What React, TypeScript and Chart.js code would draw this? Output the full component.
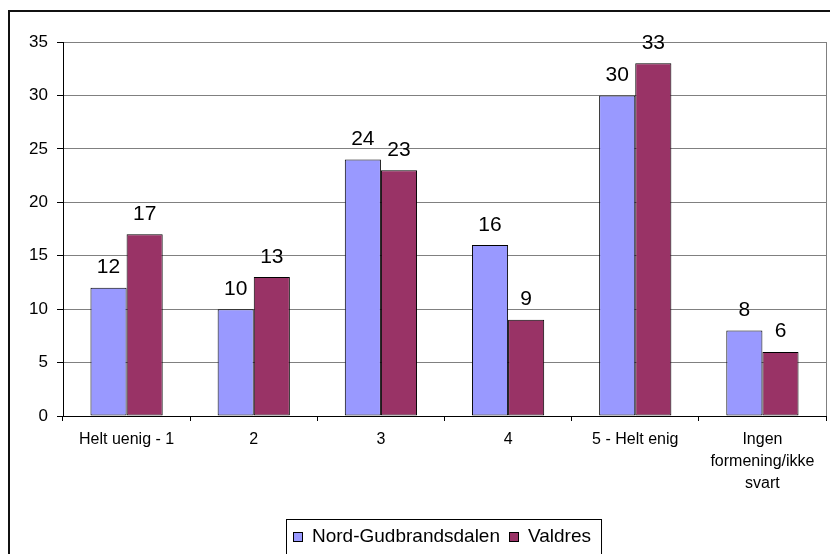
import React, { useEffect, useRef } from "react";
import { Chart, registerables } from "chart.js";

Chart.register(...registerables);

const categories: (string | string[])[] = [
  "Helt uenig - 1",
  "2",
  "3",
  "4",
  "5 - Helt enig",
  ["Ingen", "formening/ikke", "svart"],
];
const seriesNames = ["Nord-Gudbrandsdalen", "Valdres"];
const nordValues = [12, 10, 24, 16, 30, 8];
const valdresValues = [17, 13, 23, 9, 33, 6];
const seriesColors = ["#9999FF", "#993366"];
const yMin = 0;
const yMax = 35;
const yStep = 5;

const FONT = "'Liberation Sans', Arial, sans-serif";

const framePlugin = {
  id: "frame",
  beforeDraw(chart: any) {
    const ctx = chart.ctx;
    ctx.save();
    ctx.fillStyle = "#ffffff";
    ctx.fillRect(0, 0, chart.width, chart.height);
    ctx.restore();
  },
  afterDraw(chart: any) {
    const ctx = chart.ctx;
    ctx.save();
    ctx.fillStyle = "#111111";
    ctx.fillRect(8, 10, chart.width - 8, 2);
    ctx.fillRect(8, 10, 2, chart.height - 10);
    ctx.restore();
  },
};

const labelPlugin = {
  id: "valueLabels",
  afterDatasetsDraw(chart: any) {
    const ctx = chart.ctx;
    ctx.save();
    ctx.font = `21px ${FONT}`;
    ctx.fillStyle = "#000";
    ctx.textAlign = "center";
    ctx.textBaseline = "alphabetic";
    chart.data.datasets.forEach((ds: any, di: number) => {
      const meta = chart.getDatasetMeta(di);
      meta.data.forEach((el: any, i: number) => {
        ctx.fillText(String(ds.data[i]), el.x, el.y - 14.5);
      });
    });
    ctx.restore();
  },
};

const legendPlugin = {
  id: "boxLegend",
  afterDraw(chart: any) {
    const ctx = chart.ctx;
    ctx.save();
    ctx.font = `19px ${FONT}`;
    const names: string[] = chart.data.datasets.map((d: any) => d.label);
    const colors: string[] = chart.data.datasets.map((d: any) => d.backgroundColor);
    const widths = names.map((n) => ctx.measureText(n).width);
    const padL = 7, sq = 10, gap = 9, itemGap = 9, padR = 10;
    let total = padL + padR;
    widths.forEach((w, i) => {
      total += sq + gap + w + (i < widths.length - 1 ? itemGap : 0);
    });
    const cx = 444;
    const left = Math.round(cx - total / 2);
    const top = 519;
    ctx.strokeStyle = "#000";
    ctx.lineWidth = 1;
    ctx.strokeRect(left + 0.5, top + 0.5, total, 60);
    let x = left + padL;
    const midY = 537;
    ctx.textBaseline = "middle";
    ctx.textAlign = "left";
    names.forEach((n, i) => {
      ctx.fillStyle = colors[i];
      ctx.fillRect(x, midY - 5, sq, sq);
      ctx.strokeRect(x + 0.5, midY - 5 + 0.5, sq - 1, sq - 1);
      x += sq + gap;
      ctx.fillStyle = "#000";
      ctx.fillText(n, x, midY);
      x += widths[i] + itemGap;
    });
    ctx.restore();
  },
};

export default function App() {
  const ref = useRef<HTMLCanvasElement | null>(null);
  useEffect(() => {
    if (!ref.current) return;
    const chart = new Chart(ref.current, {
      type: "bar",
      data: {
        labels: categories as any,
        datasets: [
          {
            label: seriesNames[0],
            data: nordValues,
            backgroundColor: seriesColors[0],
            borderColor: "#000",
            borderWidth: 1,
            borderSkipped: false,
            categoryPercentage: 0.568,
            barPercentage: 1,
          },
          {
            label: seriesNames[1],
            data: valdresValues,
            backgroundColor: seriesColors[1],
            borderColor: "#000",
            borderWidth: 1,
            borderSkipped: false,
            categoryPercentage: 0.568,
            barPercentage: 1,
          },
        ],
      },
      options: {
        animation: false,
        responsive: false,
        maintainAspectRatio: false,
        devicePixelRatio: 1,
        layout: { padding: { left: 0, top: 42, right: 4, bottom: 0 } },
        plugins: {
          legend: { display: false },
          tooltip: { enabled: false },
          title: { display: false },
        },
        scales: {
          x: {
            grid: {
              offset: true,
              drawOnChartArea: true,
              color: (c: any) => (c.type === "tick" ? "rgba(0,0,0,0)" : "#808080"),
              tickColor: "#000",
              tickLength: 5,
            },
            border: { display: true, color: "#000", width: 1 },
            ticks: {
              color: "#000",
              font: { family: FONT, size: 16, lineHeight: 1.4 },
              padding: 7,
              maxRotation: 0,
              autoSkip: false,
            },
            afterFit: (s: any) => {
              s.height = 138;
            },
          },
          y: {
            min: yMin,
            max: yMax,
            grid: {
              color: (c: any) => (c.tick && c.tick.value === 0 ? "#000" : "#808080"),
              tickColor: "#000",
              tickLength: 6,
            },
            border: { display: true, color: "#000", width: 1 },
            ticks: {
              stepSize: yStep,
              color: "#000",
              font: { family: FONT, size: 17 },
              padding: 9,
            },
            afterFit: (s: any) => {
              s.width = 63;
            },
          },
        },
      },
      plugins: [framePlugin, labelPlugin, legendPlugin],
    });
    return () => chart.destroy();
  }, []);
  return (
    <div style={{ position: "fixed", left: 0, top: 0, width: 830, height: 554 }}>
      <canvas ref={ref} width={830} height={554} style={{ width: 830, height: 554, display: "block" }} />
    </div>
  );
}
